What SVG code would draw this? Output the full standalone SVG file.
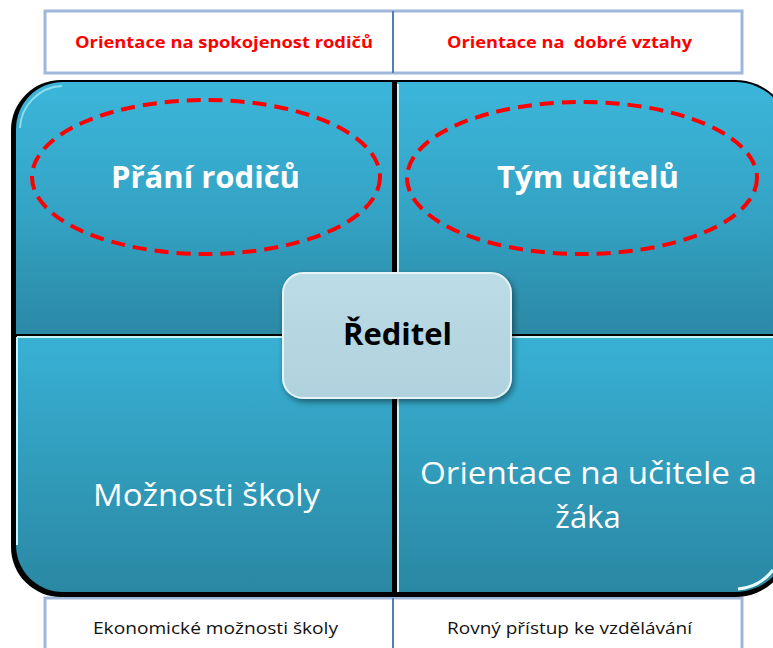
<svg xmlns="http://www.w3.org/2000/svg" width="773" height="648" viewBox="0 0 773 648">
<style>
.tbl{fill:#ffffff;stroke:#9fb8da;stroke-width:3}
.div{stroke:#4f7fbd;stroke-width:2}
.hdr{font-family:"Open Sans","Noto Sans",sans-serif;font-size:16px;font-weight:bold;fill:#ff0000;white-space:pre}
.ftr{font-family:"Open Sans","Noto Sans",sans-serif;font-size:16px;fill:#111111}
.big{font-family:"Open Sans","Noto Sans",sans-serif;font-size:31px;fill:#ffffff}
.bold{font-weight:bold}
.ell{fill:none;stroke:#ff0000;stroke-width:4;stroke-dasharray:14 8}
.hl{stroke:#c8f6ff;stroke-width:2;fill:none}
</style>
<defs>
<linearGradient id="gTop" x1="0" y1="0" x2="0" y2="1">
<stop offset="0" stop-color="#3bb6da"/>
<stop offset="0.5" stop-color="#34a4c6"/>
<stop offset="1" stop-color="#2b89a5"/>
</linearGradient>
<linearGradient id="gBot" x1="0" y1="0" x2="0" y2="1">
<stop offset="0" stop-color="#38b1d5"/>
<stop offset="1" stop-color="#2a88a3"/>
</linearGradient>
<linearGradient id="gCen" x1="0" y1="0" x2="0" y2="1">
<stop offset="0" stop-color="#bcdce6"/>
<stop offset="1" stop-color="#b0d2de"/>
</linearGradient>
<filter id="sh" x="-10%" y="-10%" width="130%" height="130%">
<feDropShadow dx="2" dy="3" stdDeviation="3" flood-color="#000" flood-opacity="0.45"/>
</filter>
</defs>

<g id="header">
<rect class="tbl" x="45" y="11" width="697" height="62"/>
<line class="div" x1="393" y1="11" x2="393" y2="73"/>
<text class="hdr" x="75" y="48" textLength="298" lengthAdjust="spacingAndGlyphs">Orientace na spokojenost rodičů</text>
<text class="hdr" x="447" y="48" textLength="245" lengthAdjust="spacingAndGlyphs">Orientace na  dobré vztahy</text>
</g>

<g id="footer">
<rect class="tbl" x="45" y="598" width="697" height="62"/>
<line class="div" x1="393" y1="598" x2="393" y2="648"/>
<text class="ftr" x="93" y="634" textLength="245" lengthAdjust="spacingAndGlyphs">Ekonomické možnosti školy</text>
<text class="ftr" x="447" y="634" textLength="245" lengthAdjust="spacingAndGlyphs">Rovný přístup ke vzdělávání</text>
</g>

<g id="matrix-shadow">
<path d="M11,130 A50,50 0 0 1 61,80 H735 A57,57 0 0 1 792,137 V540 A57,57 0 0 1 735,597 H61 A50,50 0 0 1 11,547 Z" fill="#000000"/>
</g>

<g id="quadrant-top-left">
<path d="M16,334 V129 A47,47 0 0 1 63,82 H392 V334 Z" fill="url(#gTop)"/>
<path class="hl" d="M20,128 A44,44 0 0 1 62,86" stroke-opacity="0.6"/>
<ellipse class="ell" cx="206" cy="177" rx="174" ry="77"/>
<text class="big bold" x="111" y="188" textLength="189" lengthAdjust="spacingAndGlyphs">Přání rodičů</text>
</g>

<g id="quadrant-top-right">
<path d="M397,82 H735 A55,55 0 0 1 790,137 V334 H397 Z" fill="url(#gTop)"/>
<line class="hl" x1="398" y1="84" x2="398" y2="334"/>
<ellipse class="ell" cx="582" cy="178" rx="175" ry="76"/>
<text class="big bold" x="497" y="188" textLength="182" lengthAdjust="spacingAndGlyphs">Tým učitelů</text>
</g>

<g id="quadrant-bottom-left">
<path d="M16,337 H392 V592 H63 A47,47 0 0 1 16,545 Z" fill="url(#gBot)"/>
<line class="hl" x1="17" y1="337" x2="392" y2="337"/>
<line class="hl" x1="17" y1="337" x2="17" y2="545"/>
<text class="big" x="93" y="506" textLength="227" lengthAdjust="spacingAndGlyphs">Možnosti školy</text>
</g>

<g id="quadrant-bottom-right">
<path d="M397,337 H790 V537 A55,55 0 0 1 735,592 H397 Z" fill="url(#gBot)"/>
<line class="hl" x1="397" y1="337" x2="790" y2="337"/>
<line class="hl" x1="398" y1="337" x2="398" y2="592"/>
<path d="M773,570 A50,50 0 0 1 738,589" stroke="#e8ffff" stroke-width="3" fill="none"/>
<text class="big" x="420" y="484" textLength="337" lengthAdjust="spacingAndGlyphs">Orientace na učitele a</text>
<text class="big" x="588" y="528" text-anchor="middle">žáka</text>
</g>

<g id="center-reditel">
<rect x="283" y="273" width="228" height="125" rx="20" fill="url(#gCen)" stroke="#e6f4f8" stroke-width="2" filter="url(#sh)"/>
<text class="big bold" x="343" y="345" textLength="109" lengthAdjust="spacingAndGlyphs" style="fill:#000000">Ředitel</text>
</g>
</svg>
